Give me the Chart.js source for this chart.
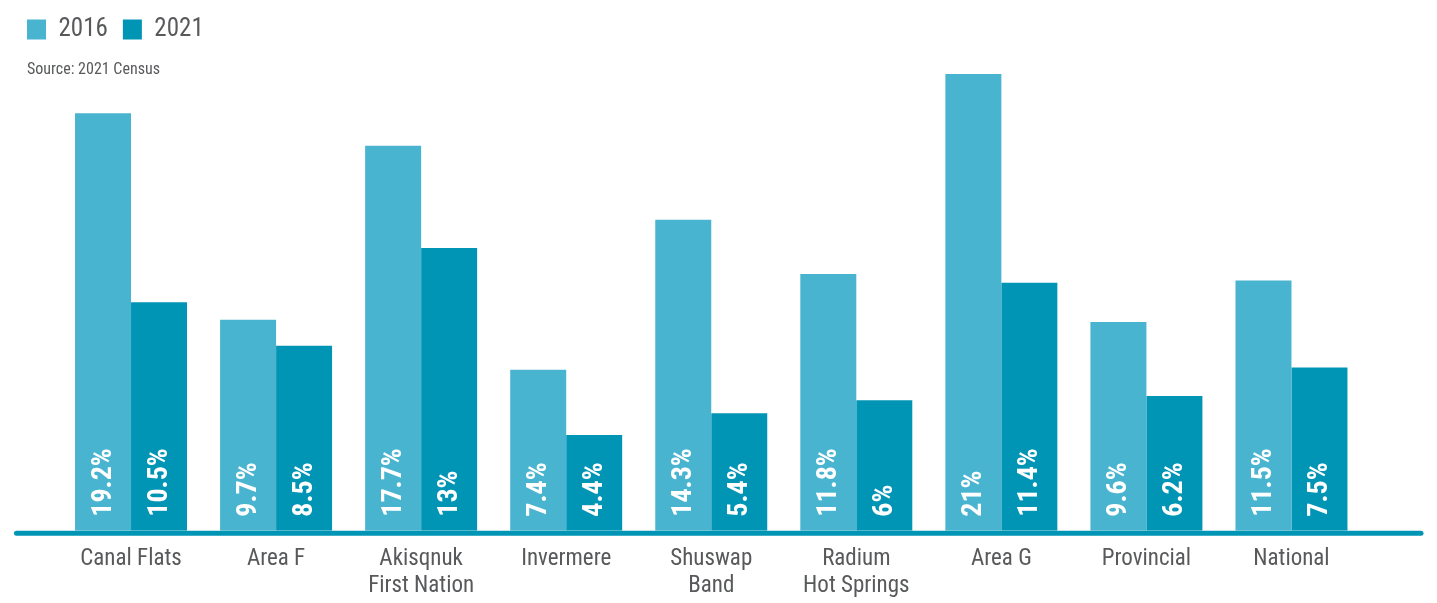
<!DOCTYPE html>
<html>
<head>
<meta charset="utf-8">
<script src="https://cdn.jsdelivr.net/npm/chart.js@4.4.1/dist/chart.umd.min.js"></script>
<style>
  html, body { margin: 0; padding: 0; background: #fff; }
  #wrap { width: 1437px; height: 603px; position: relative; }
</style>
</head>
<body>
<div id="wrap"><canvas id="chart"></canvas></div>
<script>
// Share of population by community, 2016 vs 2021
const places = ['Canal Flats', 'Area F', ['Akisqnuk', 'First Nation'], 'Invermere',
  ['Shuswap', 'Band'], ['Radium', 'Hot Springs'], 'Area G', 'Provincial', 'National'];
const values2016 = [19.2, 9.7, 17.7, 7.4, 14.3, 11.8, 21, 9.6, 11.5];
const values2021 = [10.5, 8.5, 13, 4.4, 5.4, 6, 11.4, 6.2, 7.5];
const seriesNames = ['2016', '2021'];

const FONT = "'Roboto Condensed', 'DejaVu Sans Condensed', sans-serif";
const LIGHT = '#48b4cf';
const DARK = '#0094b5';
const GREY = '#58595b';
const LEGEND_GAP = 15;

// white rotated value labels sitting near the bottom of each bar
const barLabels = {
  id: 'barLabels',
  afterDatasetsDraw(chart) {
    const ctx = chart.ctx;
    ctx.save();
    ctx.fillStyle = '#fff';
    ctx.font = `bold 28px ${FONT}`;
    ctx.textAlign = 'left';
    ctx.textBaseline = 'middle';
    chart.data.datasets.forEach((ds, i) => {
      chart.getDatasetMeta(i).data.forEach((bar, j) => {
        ctx.save();
        ctx.translate(bar.x + 1, bar.base - 14);
        ctx.rotate(-Math.PI / 2);
        ctx.fillText(ds.data[j] + '%', 0, 0);
        ctx.restore();
      });
    });
    ctx.restore();
  }
};

// thick rounded baseline running past the bars on both sides
const baseLine = {
  id: 'baseLine',
  afterDatasetsDraw(chart) {
    const { ctx, chartArea } = chart;
    const y = chart.scales.y.getPixelForValue(0) + 2.5;
    ctx.save();
    ctx.strokeStyle = DARK;
    ctx.lineWidth = 5;
    ctx.lineCap = 'round';
    ctx.beginPath();
    ctx.moveTo(chartArea.left - 42, y);
    ctx.lineTo(chartArea.right + 57, y);
    ctx.stroke();
    ctx.restore();
  }
};

// legend item padding also indents the first item; pull the row back flush left
const legendFlush = {
  id: 'legendFlush',
  afterLayout(chart) {
    if (!chart.legend) return;
    chart.legend.left -= LEGEND_GAP;
    chart.legend.right -= LEGEND_GAP;
  }
};

new Chart(document.getElementById('chart'), {
  type: 'bar',
  data: {
    labels: places,
    datasets: [
      { label: seriesNames[0], data: values2016, backgroundColor: LIGHT },
      { label: seriesNames[1], data: values2021, backgroundColor: DARK }
    ]
  },
  options: {
    responsive: true,
    maintainAspectRatio: false,
    animation: false,
    layout: { padding: { left: 27, right: 73, top: 2, bottom: -4 } },
    datasets: { bar: { categoryPercentage: 0.772, barPercentage: 1 } },
    plugins: {
      legend: {
        position: 'top',
        align: 'start',
        labels: {
          boxWidth: 19,
          boxHeight: 20,
          padding: LEGEND_GAP,
          color: GREY,
          font: { family: FONT, size: 25 }
        }
      },
      title: {
        display: true,
        text: 'Source: 2021 Census',
        align: 'start',
        position: 'top',
        weight: 500,
        color: GREY,
        font: { family: FONT, size: 16, weight: 'normal', lineHeight: 1 },
        padding: { top: 10, bottom: -4 }
      },
      tooltip: { enabled: false }
    },
    scales: {
      x: {
        grid: { display: false },
        border: { display: false },
        ticks: {
          color: GREY,
          padding: 7,
          font: { family: FONT, size: 23, lineHeight: 1.18 }
        }
      },
      y: {
        min: 0,
        max: 21,
        grid: { display: false },
        border: { display: false },
        ticks: { display: false },
        afterFit(scale) { scale.width = 31.5; }
      }
    }
  },
  plugins: [barLabels, baseLine, legendFlush]
});
</script>
</body>
</html>
